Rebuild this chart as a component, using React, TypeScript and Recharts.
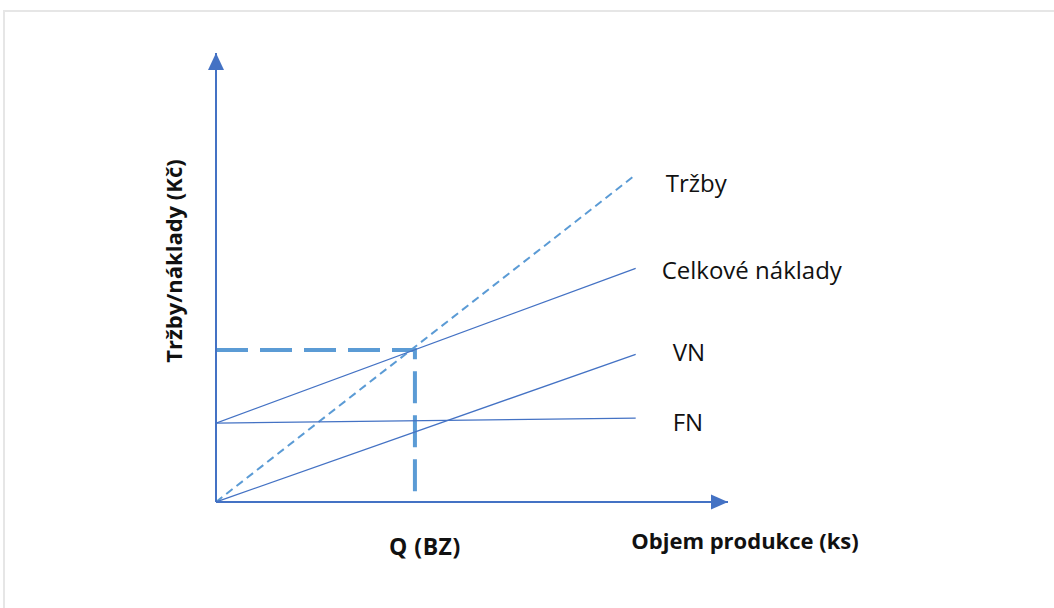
import React from "react";
import { LineChart, Line, XAxis, YAxis, ReferenceDot, LabelList, Label } from "recharts";

// break-even diagram (bod zvratu)
const qty = [0, 10];
const trzby = [0, 7.8];
const celkoveNaklady = [1.88, 5.57];
const variabilniNaklady = [0, 3.52];
const fixniNaklady = [1.88, 2.0];
const breakEvenQ = 4.74;
const breakEvenValue = 3.62;
const axisMaxX = 12.2;
const axisMaxY = 10.7;

const seriesNames = ["Tržby", "Celkové náklady", "VN", "FN"];
const xTitle = "Objem produkce (ks)";
const yTitle = "Tržby/náklady (Kč)";
const breakEvenLabel = "Q (BZ)";

const toPoints = (vals: number[]) => qty.map((x, i) => ({ x, y: vals[i] }));
const bzPoints = [
  { x: 0, y: breakEvenValue },
  { x: breakEvenQ, y: breakEvenValue },
  { x: breakEvenQ, y: 0 },
];

const BLUE = "#4472C4";
const LIGHT = "#5B9BD5";
const FONT = "'Open Sans', sans-serif";

const endLabel = (text: string, dx: number, dy: number) => (props: any) => {
  if (props.index !== 1) return null;
  return (
    <text x={props.x + dx} y={props.y + dy} fontFamily={FONT} fontSize={24} fill="#111" dominantBaseline="central">
      {text}
    </text>
  );
};

const ArrowRight = (props: any) => (
  <polygon points={`${props.cx},${props.cy} ${props.cx - 17},${props.cy - 7.5} ${props.cx - 17},${props.cy + 7.5}`} fill={BLUE} />
);
const ArrowUp = (props: any) => (
  <polygon points={`${props.cx},${props.cy} ${props.cx - 8},${props.cy + 17} ${props.cx + 8},${props.cy + 17}`} fill={BLUE} />
);

export default function App() {
  return (
    <div style={{ position: "fixed", left: 0, top: 0, width: 1054, height: 608, background: "#fff" }}>
      <div style={{ position: "absolute", left: 3, top: 10, right: 0, bottom: 0, borderTop: "2px solid #e6e6e6", borderLeft: "2px solid #e6e6e6" }} />
      <LineChart width={1054} height={608} margin={{ top: 53, right: 326, left: 176, bottom: 46 }} style={{ position: "absolute", left: 0, top: 0 }}>
        <XAxis
          type="number"
          dataKey="x"
          domain={[0, axisMaxX]}
          allowDataOverflow
          height={60}
          ticks={[breakEvenQ]}
          tickLine={false}
          axisLine={{ stroke: BLUE, strokeWidth: 2 }}
          tick={(p: any) => (
            <text x={p.x + 10} y={p.y + 36} textAnchor="middle" fontFamily={FONT} fontWeight={700} fontSize={23} letterSpacing={0.5} fill="#111" dominantBaseline="central">
              {breakEvenLabel}
            </text>
          )}
        >
          <Label
            content={(p: any) => (
              <text x={p.viewBox.x + p.viewBox.width + 17} y={p.viewBox.y + 38} textAnchor="middle" fontFamily={FONT} fontWeight={700} fontSize={22} fill="#111" dominantBaseline="central">
                {xTitle}
              </text>
            )}
          />
        </XAxis>
        <YAxis
          type="number"
          domain={[0, axisMaxY]}
          allowDataOverflow
          width={40}
          tick={false}
          tickLine={false}
          axisLine={{ stroke: BLUE, strokeWidth: 2 }}
        >
          <Label
            content={(p: any) => {
              const cx = p.viewBox.x + p.viewBox.width - 43;
              const cy = p.viewBox.y + 208;
              return (
                <text x={cx} y={cy} transform={`rotate(-90 ${cx} ${cy})`} textAnchor="middle" fontFamily={FONT} fontWeight={700} fontSize={22} fill="#111" dominantBaseline="central">
                  {yTitle}
                </text>
              );
            }}
          />
        </YAxis>

        <Line data={bzPoints} dataKey="y" type="linear" stroke={LIGHT} strokeWidth={4} strokeDasharray="32 12" dot={false} isAnimationActive={false} />
        <Line data={toPoints(trzby)} dataKey="y" type="linear" stroke={LIGHT} strokeWidth={2} strokeDasharray="8 5" dot={false} isAnimationActive={false}>
          <LabelList content={endLabel(seriesNames[0], 30, 8)} />
        </Line>
        <Line data={toPoints(celkoveNaklady)} dataKey="y" type="linear" stroke={BLUE} strokeWidth={1.3} dot={false} isAnimationActive={false}>
          <LabelList content={endLabel(seriesNames[1], 26, 1)} />
        </Line>
        <Line data={toPoints(variabilniNaklady)} dataKey="y" type="linear" stroke={BLUE} strokeWidth={1.3} dot={false} isAnimationActive={false}>
          <LabelList content={endLabel(seriesNames[2], 37, -3)} />
        </Line>
        <Line data={toPoints(fixniNaklady)} dataKey="y" type="linear" stroke={BLUE} strokeWidth={1.3} dot={false} isAnimationActive={false}>
          <LabelList content={endLabel(seriesNames[3], 37, 3)} />
        </Line>

        <ReferenceDot x={axisMaxX} y={0} shape={ArrowRight} ifOverflow="visible" />
        <ReferenceDot x={0} y={axisMaxY} shape={ArrowUp} ifOverflow="visible" />
      </LineChart>
    </div>
  );
}
